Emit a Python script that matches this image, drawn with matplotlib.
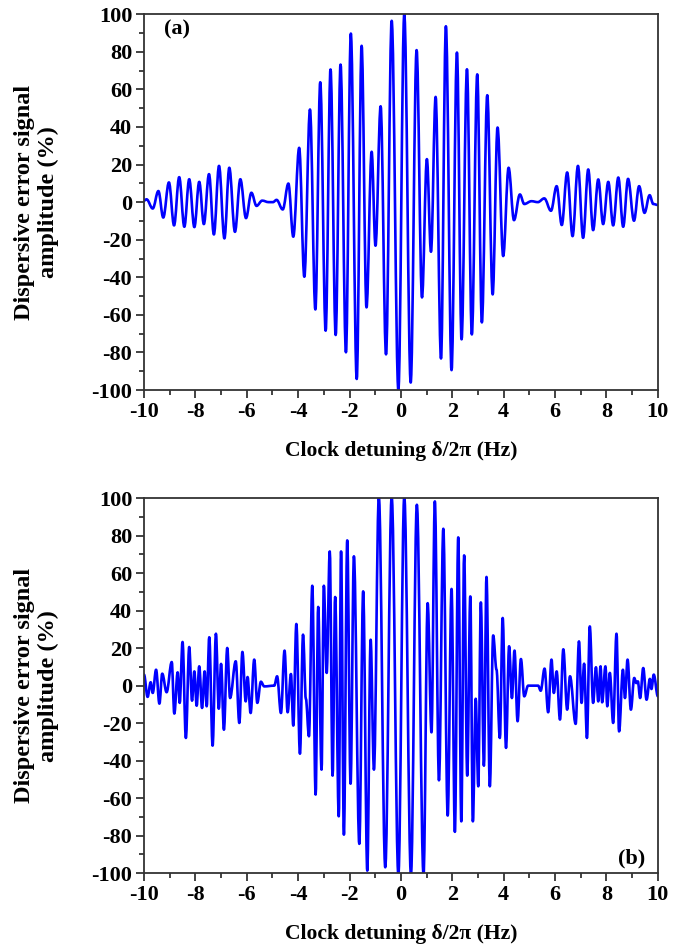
import matplotlib
matplotlib.use('Agg')
import matplotlib.pyplot as plt
from matplotlib.path import Path
from matplotlib.patches import PathPatch
from matplotlib.ticker import MultipleLocator

# turning points (detuning in Hz, signal in %)
a_x = [-10.0, -9.90, -9.66, -9.44, -9.25, -9.03, -8.83, -8.63, -8.43, -8.24,
       -8.04, -7.85, -7.67, -7.47, -7.28, -7.08, -6.87, -6.68, -6.46, -6.25,
       -6.03, -5.82, -5.62, -5.40, -5.15, -4.98, -4.84, -4.60, -4.38, -4.19,
       -3.96, -3.76, -3.54, -3.33, -3.14, -2.93, -2.74, -2.54, -2.35, -2.14,
       -1.95, -1.72, -1.53, -1.34, -1.14, -0.99, -0.79, -0.58, -0.36, -0.10,
       0.13, 0.38, 0.61, 0.82, 1.01, 1.17, 1.35, 1.56, 1.75, 1.97,
       2.18, 2.36, 2.57, 2.76, 2.97, 3.15, 3.36, 3.57, 3.76, 3.98,
       4.19, 4.40, 4.63, 4.80, 5.08, 5.33, 5.58, 5.84, 6.06, 6.26,
       6.47, 6.68, 6.89, 7.09, 7.29, 7.48, 7.68, 7.87, 8.07, 8.26,
       8.46, 8.65, 8.84, 9.07, 9.27, 9.48, 9.68, 9.82, 10.0]
a_y = [0.8, 1.5, -3.4, 5.9, -8.2, 10.5, -12.4, 13.3, -13.1, 12.2,
       -13.3, 10.8, -11.7, 14.9, -17.2, 19.3, -19.3, 18.3, -15.8, 12.2,
       -8.5, 5.0, -2.0, 0.8, 0.0, 0.0, 1.2, -3.9, 9.9, -18.4,
       28.9, -39.7, 49.3, -57.1, 63.8, -68.4, 70.6, -70.7, 73.2, -79.9,
       89.7, -94.1, 83.2, -56.0, 26.8, -23.2, 51.0, -81.0, 96.5, -100.0,
       100.0, -96.0, 80.9, -50.7, 22.9, -26.4, 56.0, -83.2, 93.6, -89.4,
       79.6, -73.0, 70.7, -70.4, 68.0, -64.0, 56.9, -49.1, 39.7, -28.7,
       18.3, -9.6, 4.1, -1.0, 0.5, 0.0, 2.0, -4.6, 8.5, -12.2,
       15.8, -18.1, 19.3, -19.0, 17.4, -14.9, 12.1, -11.7, 10.8, -12.4,
       13.1, -13.1, 12.4, -9.9, 8.5, -5.7, 3.7, -1.0, -1.5]

b_x = [-10.0, -9.86, -9.74, -9.66, -9.53, -9.40, -9.29, -9.12, -8.92, -8.82,
       -8.69, -8.61, -8.50, -8.37, -8.24, -8.13, -8.04, -7.95, -7.85, -7.74,
       -7.64, -7.56, -7.46, -7.33, -7.20, -7.09, -7.00, -6.89, -6.76, -6.65,
       -6.43, -6.29, -6.17, -6.04, -5.97, -5.85, -5.71, -5.59, -5.45, -5.32,
       -4.93, -4.82, -4.67, -4.53, -4.41, -4.28, -4.19, -4.07, -3.93, -3.81,
       -3.70, -3.58, -3.45, -3.32, -3.22, -3.09, -3.00, -2.89, -2.77, -2.66,
       -2.56, -2.42, -2.33, -2.22, -2.09, -1.96, -1.83, -1.62, -1.47, -1.31,
       -1.18, -1.05, -0.86, -0.61, -0.36, -0.10, 0.13, 0.39, 0.62, 0.88,
       1.04, 1.19, 1.32, 1.48, 1.65, 1.82, 1.97, 2.10, 2.23, 2.35,
       2.46, 2.58, 2.70, 2.80, 2.91, 3.01, 3.11, 3.23, 3.33, 3.46,
       3.59, 3.72, 3.85, 3.96, 4.09, 4.21, 4.32, 4.42, 4.54, 4.67,
       4.80, 4.95, 5.34, 5.44, 5.59, 5.73, 5.86, 5.95, 6.06, 6.19,
       6.32, 6.47, 6.58, 6.80, 6.93, 7.03, 7.13, 7.24, 7.35, 7.48,
       7.59, 7.68, 7.77, 7.83, 7.96, 8.03, 8.13, 8.26, 8.39, 8.49,
       8.64, 8.72, 8.82, 8.95, 9.08, 9.16, 9.22, 9.31, 9.43, 9.56,
       9.69, 9.75, 9.84, 10.0]
b_y = [5.9, -6.0, 1.8, -3.9, 8.5, -9.6, 6.4, -3.5, 12.6, -14.9,
       7.1, -9.2, 23.3, -27.9, 20.6, -8.0, 7.6, -10.7, 10.3, -11.9,
       7.6, -11.0, 25.8, -32.0, 27.7, -12.3, 11.6, -23.5, 20.1, -6.6,
       13.0, -19.9, 18.0, -8.4, 4.6, -14.6, 13.9, -9.2, 2.1, -0.4,
       0.0, 5.0, -14.6, 18.7, -14.2, 6.2, -21.3, 32.9, -36.3, 27.2,
       -7.0, -27.0, 53.3, -58.1, 42.0, -44.8, 53.3, 6.8, 71.6, -48.0,
       47.3, -69.7, 71.6, -79.5, 77.5, -52.3, 69.0, -84.4, 50.3, -98.7,
       24.5, -44.8, 101.0, -96.9, 101.0, -101.0, 101.0, -101.0, 96.5, -101.0,
       44.0, -24.9, 98.3, -50.5, 83.7, -69.3, 51.6, -78.0, 79.1, -72.4,
       69.5, -48.0, 47.6, -72.4, -7.0, -53.7, 44.4, -42.7, 58.0, -53.7,
       26.8, 8.5, -27.9, 36.1, -33.2, 21.0, -6.6, 18.7, -19.0, 14.2,
       -5.7, 0.0, 0.0, -2.7, 9.1, -14.2, 13.9, -3.9, 7.6, -18.1,
       19.4, -12.8, 5.0, -20.4, 23.6, -9.2, 11.7, -27.9, 31.6, -9.2,
       9.8, -8.4, 10.3, -8.9, 10.3, -11.0, 6.8, -19.9, 27.7, -24.4,
       8.5, -6.6, 13.9, -12.8, 4.1, 1.4, 2.3, -6.6, 9.4, -7.5,
       3.6, -1.8, 5.9, -5.7]

x_ticks = [-10, -8, -6, -4, -2, 0, 2, 4, 6, 8, 10]
y_ticks = [-100, -80, -60, -40, -20, 0, 20, 40, 60, 80, 100]
x_label = 'Clock detuning \u03b4/2\u03c0 (Hz)'
y_label = 'Dispersive error signal\namplitude (%)'

plt.rcParams['font.family'] = ['Liberation Serif', 'DejaVu Serif']
plt.rcParams['font.weight'] = 'bold'
plt.rcParams['axes.unicode_minus'] = False


def wave_path(xs, ys, k=0.363):
    # cubic pieces with flat tangents at every turning point
    verts = [(xs[0], ys[0])]
    codes = [Path.MOVETO]
    for i in range(len(xs) - 1):
        dx = xs[i + 1] - xs[i]
        verts += [(xs[i] + k * dx, ys[i]), (xs[i + 1] - k * dx, ys[i + 1]),
                  (xs[i + 1], ys[i + 1])]
        codes += [Path.CURVE4] * 3
    return Path(verts, codes)


fig = plt.figure(figsize=(6.87, 9.49), dpi=100)
ax_a = fig.add_axes([0.2096, 0.589, 0.748, 0.396])
ax_b = fig.add_axes([0.2096, 0.080, 0.748, 0.395])

for ax, xs, ys, tag, tpos in [(ax_a, a_x, a_y, '(a)', (0.064, 0.96)),
                              (ax_b, b_x, b_y, '(b)', (0.948, 0.038))]:
    assert len(xs) == len(ys)
    ax.add_patch(PathPatch(wave_path(xs, ys), fill=False, edgecolor='#0000ff',
                           linewidth=1.9, capstyle='round', joinstyle='round'))
    ax.set_xlim(-10, 10)
    ax.set_ylim(-100, 100)
    ax.set_xticks(x_ticks)
    ax.set_yticks(y_ticks)
    ax.xaxis.set_minor_locator(MultipleLocator(1))
    ax.yaxis.set_minor_locator(MultipleLocator(10))
    ax.tick_params(which='both', direction='out', top=False, right=False,
                   width=1.2, color='#222222', labelsize=16, pad=3)
    ax.tick_params(which='major', length=5.5)
    ax.tick_params(which='minor', length=3.5)
    for s in ax.spines.values():
        s.set_linewidth(1.3)
        s.set_color('#333333')
    ax.set_xlabel(x_label, fontsize=15.6, fontweight='bold')
    ax.set_ylabel(y_label, fontsize=17.5, fontweight='bold', linespacing=1.2)
    ax.xaxis.set_label_coords(0.5, -0.135)
    ax.yaxis.set_label_coords(-0.165, 0.5)
    ax.text(tpos[0], tpos[1], tag, transform=ax.transAxes, fontsize=16,
            fontweight='bold', ha='center', va='center')

fig.savefig('out.png', dpi=100)
